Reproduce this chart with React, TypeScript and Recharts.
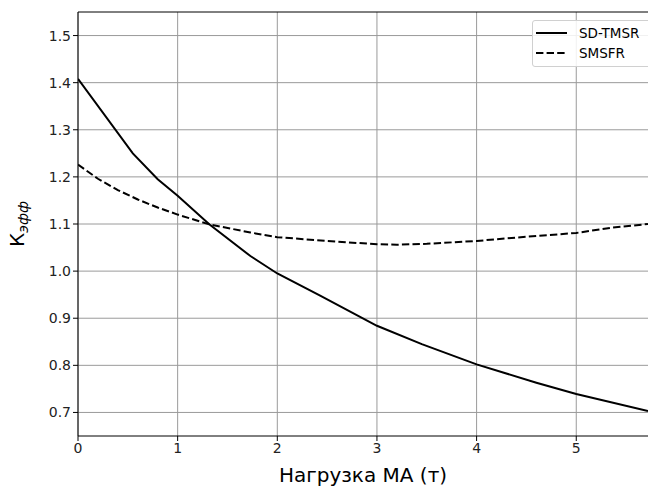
import { LineChart, Line, XAxis, YAxis, CartesianGrid, ReferenceLine } from 'recharts';

const xTicks = [0, 1, 2, 3, 4, 5];
const yTicks = [0.7, 0.8, 0.9, 1.0, 1.1, 1.2, 1.3, 1.4, 1.5];

const tmsrLoad = [0, 0.55, 0.8, 1.0, 1.32, 1.73, 2.0, 2.43, 3.0, 3.45, 4.0, 4.6, 5.0, 5.72];
const tmsrK = [1.408, 1.25, 1.195, 1.16, 1.099, 1.032, 0.995, 0.948, 0.884, 0.845, 0.802, 0.763, 0.739, 0.703];

const smsfrLoad = [0, 0.2, 0.4, 0.6, 0.8, 1.0, 1.32, 1.73, 2.0, 2.5, 3.0, 3.2, 3.5, 4.0, 4.5, 5.0, 5.35, 5.72];
const smsfrK = [1.226, 1.196, 1.172, 1.152, 1.135, 1.12, 1.099, 1.082, 1.072, 1.064, 1.057, 1.056, 1.058, 1.064, 1.073, 1.081, 1.092, 1.1];

const tmsrData = tmsrLoad.map((x, i) => ({ x, y: tmsrK[i] }));
const smsfrData = smsfrLoad.map((x, i) => ({ x, y: smsfrK[i] }));

const legendItems = [
  { name: 'SD-TMSR', dash: undefined },
  { name: 'SMSFR', dash: '7.4 3.2' },
];

const font = '"DejaVu Sans", sans-serif';

const LegendBox = () => (
  <div
    style={{
      position: 'absolute',
      left: 532,
      top: 20,
      width: 140,
      height: 47,
      border: '1px solid #d0d0d0',
      borderRadius: 3,
      background: 'rgba(255,255,255,0.85)',
      fontFamily: font,
      fontSize: 13.5,
      color: '#000',
      boxSizing: 'border-box',
    }}
  >
    {legendItems.map((item, i) => (
      <div key={i} style={{ display: 'flex', alignItems: 'center', height: 20, marginTop: i === 0 ? 2 : 0 }}>
        <svg width={46} height={20}>
          <line x1={3} y1={10} x2={34} y2={10} stroke="#000" strokeWidth={2} strokeDasharray={item.dash} />
        </svg>
        <span>{item.name}</span>
      </div>
    ))}
  </div>
);

const YLabel = () => (
  <text transform="translate(24,224) rotate(-90)" textAnchor="middle" fontFamily={font} fill="#000">
    <tspan fontSize={20}>К</tspan>
    <tspan fontSize={14} fontStyle="italic" dy={4}>эфф</tspan>
  </text>
);

const App = () => {
  return (
    <div style={{ position: 'absolute', left: 0, top: 0, width: 648, height: 487, overflow: 'hidden', background: '#fff' }}>
      <LineChart width={648} height={487} margin={{ top: 12, right: 0, bottom: 0, left: 28 }}>
        <CartesianGrid stroke="#9a9a9a" strokeWidth={1} verticalValues={xTicks} horizontalValues={yTicks} />
        <XAxis
          type="number"
          dataKey="x"
          domain={[0, 5.72]}
          ticks={xTicks}
          allowDataOverflow
          height={51}
          stroke="#000"
          tickSize={5}
          tick={{ fontSize: 14, fill: '#222', fontFamily: font }}
          label={{ value: 'Нагрузка МА (т)', position: 'insideBottom', offset: 5, fontSize: 20, fill: '#000', fontFamily: font }}
        />
        <YAxis
          type="number"
          dataKey="y"
          domain={[0.65, 1.55]}
          ticks={yTicks}
          allowDataOverflow
          width={50}
          stroke="#000"
          tickSize={5}
          tickFormatter={(v: number) => v.toFixed(1)}
          tick={{ fontSize: 14, fill: '#222', fontFamily: font }}
          label={<YLabel />}
        />
        <ReferenceLine y={1.55} stroke="#000" strokeWidth={1} />
        <Line
          data={tmsrData}
          dataKey="y"
          type="linear"
          stroke="#000"
          strokeWidth={2}
          dot={false}
          isAnimationActive={false}
        />
        <Line
          data={smsfrData}
          dataKey="y"
          type="linear"
          stroke="#000"
          strokeWidth={2}
          strokeDasharray="7.4 3.2"
          dot={false}
          isAnimationActive={false}
        />
      </LineChart>
      <LegendBox />
    </div>
  );
};

export default App;
